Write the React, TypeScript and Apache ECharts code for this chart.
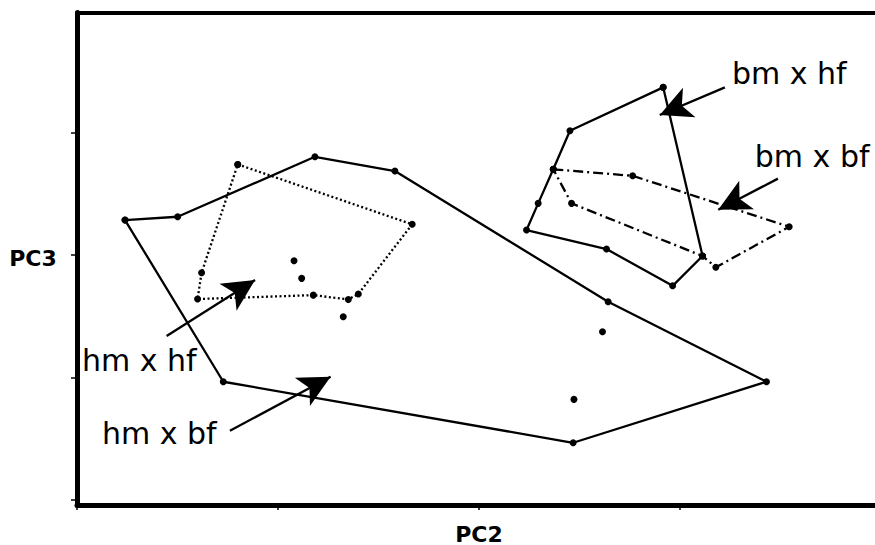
import React, { useEffect, useRef } from "react";
import * as echarts from "echarts";

// PC2 (x) / PC3 (y) scores
const hmBfHull = [[-1.761, 0.286], [-1.499, 0.313], [-0.816, 0.802], [-0.418, 0.686], [0.643, -0.381], [1.431, -1.034], [0.469, -1.532], [-1.272, -1.034]];
const hmBfInner = [[0.615, -0.626], [0.473, -1.178], [-0.675, -0.504]];
const hmHfHull = [[-1.2, 0.74], [-0.332, 0.251], [-0.6, -0.318], [-0.65, -0.362], [-0.824, -0.327], [-1.4, -0.359], [-1.38, -0.144]];
const hmHfInner = [[-0.92, -0.047], [-0.882, -0.19]];
const bmHfHull = [[0.917, 1.369], [0.453, 1.015], [0.37, 0.7], [0.295, 0.422], [0.237, 0.204], [0.635, 0.049], [0.964, -0.251], [1.113, -0.008]];
const bmBfHull = [[0.37, 0.7], [0.765, 0.647], [1.544, 0.231], [1.179, -0.1], [1.113, -0.008], [0.461, 0.422]];

const groupNames = ["bm x hf", "bm x bf", "hm x hf", "hm x bf"];
const labelAnchors = [[1.259, 1.486], [1.373, 0.808], [-1.975, -0.857], [-1.876, -1.453]];
const arrowTails = [[1.224, 1.369], [1.488, 0.624], [-1.554, -0.661], [-1.239, -1.434]];
const arrowTips = [[0.9, 1.143], [1.191, 0.37], [-1.114, -0.204], [-0.738, -0.993]];

const xTicks = [-2, -1, 0, 1, 2];
const yTicks = [-2, -1, 0, 1];
const xLabel = "PC2";
const yLabel = "PC3";

const close = (pts: number[][]) => [...pts, pts[0]];

export default function App() {
  const ref = useRef<HTMLDivElement>(null);
  useEffect(() => {
    if (!ref.current) return;
    const chart = echarts.init(ref.current, null, { renderer: "svg" });
    const hull = (data: number[][], type: any) => ({
      type: "line",
      data: close(data),
      symbol: "circle",
      symbolSize: 7,
      showSymbol: true,
      silent: true,
      itemStyle: { color: "#000", opacity: 1 },
      lineStyle: { color: "#000", width: 2.3, type },
      z: 3,
    });
    const dots = (data: number[][]) => ({
      type: "scatter",
      data,
      symbol: "circle",
      symbolSize: 7,
      silent: true,
      itemStyle: { color: "#000", opacity: 1 },
      z: 4,
    });
    chart.setOption({
      animation: false,
      backgroundColor: "#fff",
      grid: { left: 77, top: 12.5, width: 844, height: 492.5, outerBoundsMode: "none" },
      xAxis: [
        {
          type: "value", position: "bottom", min: -2, max: 2.2,
          axisLine: { show: true, onZero: false, lineStyle: { color: "#000", width: 5 } },
          axisTick: { show: true, customValues: xTicks, length: 5, lineStyle: { color: "#000", width: 1.5 } },
          axisLabel: { show: false }, splitLine: { show: false },
        },
        {
          type: "value", position: "top", min: -2, max: 2.2,
          axisLine: { show: true, onZero: false, lineStyle: { color: "#000", width: 4 } },
          axisTick: { show: false }, axisLabel: { show: false }, splitLine: { show: false },
        },
      ],
      yAxis: {
        type: "value", min: -2.04, max: 1.98,
        axisLine: { show: true, onZero: false, lineStyle: { color: "#000", width: 5 } },
        axisTick: { show: true, customValues: yTicks, length: 6, lineStyle: { color: "#000", width: 1.5 } },
        axisLabel: { show: false }, splitLine: { show: false },
      },
      graphic: [
        { type: "text", x: 33, y: 258, style: { text: yLabel, font: "bold 22px 'DejaVu Sans'", fill: "#000", align: "center", verticalAlign: "middle" } },
        { type: "text", x: 479, y: 534, style: { text: xLabel, font: "bold 22px 'DejaVu Sans'", fill: "#000", align: "center", verticalAlign: "middle" } },
      ],
      series: [
        hull(hmBfHull, "solid"),
        dots(hmBfInner),
        hull(hmHfHull, [2, 2.5]),
        dots(hmHfInner),
        hull(bmHfHull, "solid"),
        hull(bmBfHull, [10, 4, 2, 4]),
        {
          type: "scatter",
          data: groupNames.map((n, i) => ({ name: n, value: labelAnchors[i] })),
          symbolSize: 0,
          silent: true,
          itemStyle: { color: "#000", opacity: 1 },
          label: {
            show: true, position: "right", distance: 0,
            formatter: (p: any) => p.name,
            fontFamily: "DejaVu Sans", fontSize: 30, color: "#000", opacity: 1,
          },
          markLine: {
            silent: true,
            animation: false,
            label: { show: false },
            lineStyle: { color: "#000", width: 2.3, type: "solid", opacity: 1 },
            data: arrowTails.map((t, i) => [
              { coord: t, symbol: "none" },
              { coord: arrowTips[i], symbol: "arrow", symbolSize: [24, 32] },
            ]),
          },
          z: 5,
        },
      ],
    });
    return () => chart.dispose();
  }, []);
  return <div ref={ref} style={{ position: "absolute", left: 0, top: 0, width: 875, height: 545 }} />;
}
